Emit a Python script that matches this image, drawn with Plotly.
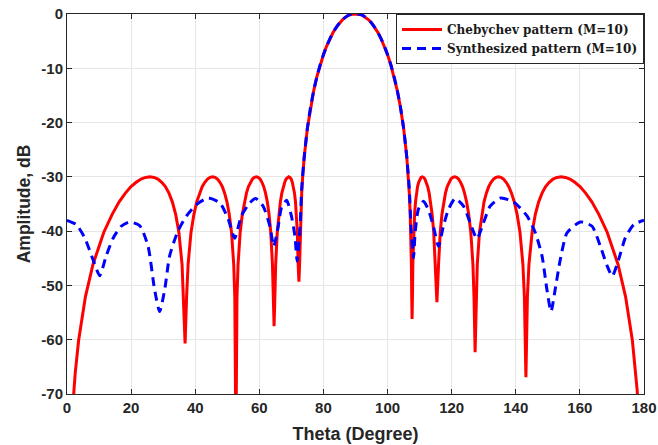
import plotly.graph_objects as go

# ---------------- data ----------------
theta_cheb = [
    1.80, 2.15, 2.57, 3.63, 5.74, 8.12, 11.49, 14.09, 16.27, 18.21, 19.97, 21.58, 23.09, 24.51, 25.86,
    27.15, 28.37, 29.55, 30.69, 31.80, 32.86, 33.90, 34.90, 35.89, 36.37, 36.84, 37.31, 37.78, 38.69,
    39.59, 40.47, 41.33, 42.17, 43.00, 43.82, 44.62, 45.41, 46.19, 46.95, 47.71, 48.45, 49.18, 49.90,
    50.61, 51.32, 52.01, 52.35, 52.69, 53.03, 53.37, 54.03, 54.69, 55.34, 55.98, 56.61, 57.24, 57.85,
    58.46, 59.06, 59.65, 60.24, 60.81, 61.38, 61.94, 62.49, 63.03, 63.56, 64.09, 64.34, 64.60, 64.85,
    65.10, 65.60, 66.09, 66.56, 67.02, 67.48, 67.92, 68.35, 68.76, 69.16, 69.56, 69.93, 70.29, 70.64,
    70.97, 71.28, 71.57, 71.85, 72.11, 72.35, 72.56, 72.76, 72.94, 73.22, 73.52,
    74, 75, 76, 77, 78, 79, 80, 81, 82, 83, 84, 85, 86, 87, 88, 89, 90,
    91, 92, 93, 94, 95, 96, 97, 98, 99, 100, 101, 102, 103, 104, 105, 106,
    106.48, 106.78, 107.06, 107.24, 107.44, 107.54, 107.65, 107.77, 107.89, 108.15, 108.43, 108.72,
    109.03, 109.36, 109.71, 110.07, 110.44, 110.84, 111.24, 111.65, 112.08, 112.52, 112.98, 113.44,
    113.91, 114.40, 114.90, 115.40, 115.91, 116.44, 116.97, 117.51, 118.06, 118.62, 119.19, 119.76,
    120.35, 120.94, 121.54, 122.15, 122.76, 123.39, 124.02, 124.66, 125.31, 125.97, 126.63, 126.97,
    127.31, 127.65, 127.99, 128.68, 129.39, 130.10, 130.82, 131.55, 132.29, 133.05, 133.81, 134.59,
    135.38, 136.18, 137.00, 137.83, 138.67, 139.53, 140.41, 141.31, 142.22, 142.69, 143.16, 143.63,
    144.11, 145.10, 146.10, 147.14, 148.20, 149.31, 150.45, 151.63, 152.85, 154.14, 155.49, 156.91,
    158.42, 160.03, 161.79, 163.73, 165.91, 168.51, 171.88, 174.26, 176.37, 177.43, 177.85, 178.20,
]
amp_cheb = [
    -72.3, -69.2, -66.1, -60.1, -52.1, -46.1, -40.2, -36.9, -34.6, -33.0, -31.8, -31.0, -30.4, -30.1, -30.0,
    -30.1, -30.4, -31.0, -31.8, -33.0, -34.6, -36.9, -40.2, -46.1, -52.1, -60.7, -52.1, -46.1, -40.2,
    -36.9, -34.6, -33.0, -31.8, -31.0, -30.4, -30.1, -30.0, -30.1, -30.4, -31.0, -31.8, -33.0, -34.6,
    -36.9, -40.2, -46.1, -52.1, -80.0, -52.1, -46.1, -40.2, -36.9, -34.6, -33.0, -31.8, -31.0, -30.4,
    -30.1, -30.0, -30.1, -30.4, -31.0, -31.8, -33.0, -34.6, -36.9, -40.2, -46.1, -52.1, -57.5, -52.1,
    -46.1, -40.2, -36.9, -34.6, -33.0, -31.8, -31.0, -30.4, -30.1, -30.0, -30.1, -30.4, -31.0, -31.8,
    -33.0, -34.6, -36.9, -40.2, -46.1, -49.3, -46.1, -40.2, -36.9, -33.0, -30.0,
    -26.38, -20.99, -17.09, -14.01, -11.46, -9.31, -7.49, -5.91, -4.57, -3.42, -2.46, -1.66, -1.02, -0.53, -0.18, -0.04, 0.0,
    -0.04, -0.18, -0.53, -1.02, -1.66, -2.46, -3.42, -4.57, -5.91, -7.49, -9.31, -11.46, -14.01, -17.09, -20.99, -26.38,
    -30.0, -33.0, -36.9, -40.2, -46.1, -52.1, -56.2, -52.1, -46.1, -40.2, -36.9, -34.6,
    -33.0, -31.8, -31.0, -30.4, -30.1, -30.0, -30.1, -30.4, -31.0, -31.8, -33.0, -34.6,
    -36.9, -40.2, -46.1, -53.1, -46.1, -40.2, -36.9, -34.6, -33.0, -31.8, -31.0, -30.4,
    -30.1, -30.0, -30.1, -30.4, -31.0, -31.8, -33.0, -34.6, -36.9, -40.2, -46.1, -52.1,
    -62.3, -52.1, -46.1, -40.2, -36.9, -34.6, -33.0, -31.8, -31.0, -30.4, -30.1, -30.0,
    -30.1, -30.4, -31.0, -31.8, -33.0, -34.6, -36.9, -40.2, -46.1, -52.1, -66.9, -52.1,
    -46.1, -40.2, -36.9, -34.6, -33.0, -31.8, -31.0, -30.4, -30.1, -30.0, -30.1, -30.4,
    -31.0, -31.8, -33.0, -34.6, -36.9, -40.2, -46.1, -52.1, -60.1, -66.1, -69.2, -72.3,
]

theta_syn = [
    0, 2.9, 5.5, 8.1, 10.2, 12.2, 14.3, 16.9, 19.5, 22.7, 25.3, 27.3, 28.9, 30.5, 32.0, 34.6, 37.3,
    40.4, 44.0, 47.7, 50.3, 52.3, 54.4, 57.0, 58.9, 61.2, 63.3, 64.5, 65.9, 66.9, 68.5, 70.0, 71.1,
    71.8, 72.7, 73.2,
    74, 75, 76, 77, 78, 79, 80, 81, 82, 83, 84, 85, 86, 87, 88, 89, 90,
    91, 92, 93, 94, 95, 96, 97, 98, 99, 100, 101, 102, 103, 104, 105, 106,
    106.8, 107.3, 108.1, 108.6, 109.6, 111.2, 112.7, 114.3, 115.9, 117.4, 119.0, 121.1, 123.7, 125.8,
    127.9, 129.9, 132.0, 135.2, 139.3, 143.5, 146.1, 148.2, 149.7, 151.0, 152.3, 153.9, 156.0, 160.2,
    163.8, 166.4, 168.5, 170.1, 172.1, 174.2, 176.8, 180,
]
amp_syn = [
    -38.0, -38.8, -41.2, -45.2, -48.2, -44.6, -41.4, -39.1, -38.3, -39.0, -42.8, -50.7, -54.8, -50.7,
    -44.6, -40.0, -37.2, -35.1, -33.9, -34.8, -37.8, -41.3, -37.2, -34.8, -34.0, -35.4, -39.1, -42.8,
    -39.1, -35.7, -34.3, -37.2, -40.9, -45.5, -39.1, -32.3,
    -26.38, -20.99, -17.09, -14.01, -11.46, -9.31, -7.49, -5.91, -4.57, -3.42, -2.46, -1.66, -1.02, -0.53, -0.18, -0.04, 0.0,
    -0.04, -0.18, -0.53, -1.02, -1.66, -2.46, -3.42, -4.57, -5.91, -7.49, -9.31, -11.46, -14.01, -17.09, -20.99, -26.38,
    -32.3, -39.1, -44.9, -40.3, -36.0, -34.5, -36.0, -39.1, -42.8, -39.1, -36.0, -34.0, -35.4, -38.5,
    -41.4, -38.5, -35.4, -33.9, -34.6, -37.2, -40.3, -44.6, -50.7, -54.8, -50.7, -45.2, -40.3, -38.3,
    -39.1, -42.8, -46.4, -48.3, -45.2, -41.2, -38.8, -38.0,
]

x_ticks = [0, 20, 40, 60, 80, 100, 120, 140, 160, 180]
y_ticks = [0, -10, -20, -30, -40, -50, -60, -70]

# ---------------- figure ----------------
fig = go.Figure()
fig.add_trace(go.Scatter(
    x=theta_cheb, y=amp_cheb, mode="lines", name="Chebychev pattern (M=10)",
    line=dict(color="#ff0000", width=3),
))
fig.add_trace(go.Scatter(
    x=theta_syn, y=amp_syn, mode="lines", name="Synthesized pattern (M=10)",
    line=dict(color="#0000ff", width=3, dash="9px,6px", shape="spline", smoothing=0.6),
))

axis_common = dict(
    showgrid=True, gridcolor="#e6e6e6", gridwidth=1,
    showline=True, linecolor="#262626", linewidth=1, mirror="ticks",
    ticks="inside", ticklen=5, tickcolor="#262626",
    tickfont=dict(family="Liberation Sans, Arial, sans-serif", size=15, color="#262626", weight="bold"),
    zeroline=False, automargin=False,
)

fig.update_layout(
    width=658, height=445, autosize=False,
    margin=dict(l=67, r=14, t=14, b=51, autoexpand=False),
    paper_bgcolor="white", plot_bgcolor="white",
    xaxis=dict(range=[0, 180], tickvals=x_ticks, ticktext=[str(v) for v in x_ticks],
               title=dict(text="Theta (Degree)", standoff=12,
                          font=dict(family="Liberation Sans, Arial, sans-serif", size=18,
                                    color="#262626", weight="bold")),
               **axis_common),
    yaxis=dict(range=[-70, 0], tickvals=y_ticks, ticktext=[str(v) for v in y_ticks],
               title=dict(text="Amplitude, dB", standoff=6,
                          font=dict(family="Liberation Sans, Arial, sans-serif", size=17.5,
                                    color="#262626", weight="bold")),
               **axis_common),
    legend=dict(x=1, y=1, xanchor="right", yanchor="top",
                bgcolor="white", bordercolor="#262626", borderwidth=1,
                font=dict(family="DejaVu Serif, serif", size=12,
                          color="#1a1a1a", weight="bold"),
                itemwidth=40, tracegroupgap=0),
    showlegend=True,
)

fig.write_html(
    "out.html",
    config={"responsive": False, "displayModeBar": False},
    post_script="document.body.style.margin='0';document.documentElement.style.overflow='hidden';document.body.style.overflow='hidden';",
)
